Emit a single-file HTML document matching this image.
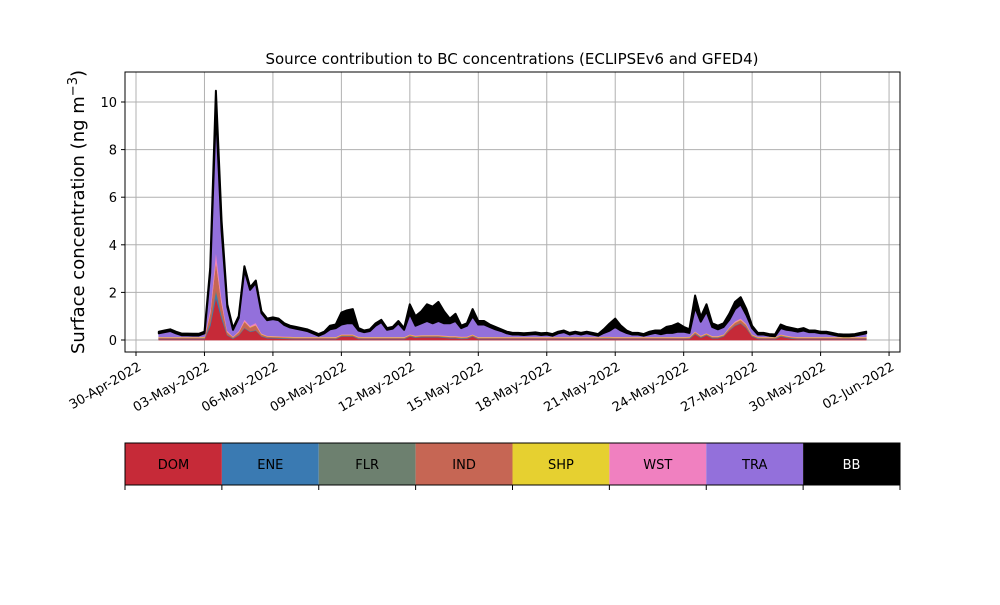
<!DOCTYPE html>
<html><head><meta charset="utf-8"><style>
body{margin:0;background:#fff;font-family:"Liberation Sans","DejaVu Sans",sans-serif}
svg text{font-family:"DejaVu Sans","Liberation Sans",sans-serif}
</style></head><body>
<svg id="chart" width="1000" height="600" viewBox="0 0 1000 600">
<rect width="1000" height="600" fill="#fff"/>
<text x="512" y="64" font-size="15" text-anchor="middle">Source contribution to BC concentrations (ECLIPSEv6 and GFED4)</text>
<g id="grid"></g>
<g id="areas"></g>
<g id="axes"></g>
<text transform="translate(84,212) rotate(-90)" font-size="18" text-anchor="middle">Surface concentration (ng m<tspan dy="-7" font-size="13">−3</tspan><tspan dy="7">)</tspan></text>
<g id="legend"></g>
</svg>
<script>
const sources = ["DOM","ENE","FLR","IND","SHP","WST","TRA","BB"];
const colors = ["#c62a38","#3a7ab2","#6d806f","#c66654","#e6d030","#f080c0","#9370db","#000000"];
const startDay = 1; // days after 30-Apr-2022
const stepDay = 0.25;
const xTickLabels = ["30-Apr-2022","03-May-2022","06-May-2022","09-May-2022","12-May-2022","15-May-2022","18-May-2022","21-May-2022","24-May-2022","27-May-2022","30-May-2022","02-Jun-2022"];
const xTickDays = [0,3,6,9,12,15,18,21,24,27,30,33];
const yTicks = [0,2,4,6,8,10];
const dom = [.04,.04,.04,.04, .04,.04,.04,.04, .05,.6,1.8,.9, .2,.06,.2,.5, .35,.4,.15,.08, .08,.07,.06,.05, .04,.04,.04,.04, .04,.04,.04,.04, .15,.15,.15,.05, .04,.04,.04,.04, .04,.04,.04,.04, .15,.1,.12,.12, .12,.12,.1,.08, .08,.05,.06,.15, .04,.04,.04,.04, .04,.04,.04,.04, .04,.04,.04,.04, .04,.04,.04,.04, .04,.04,.04,.04, .04,.04,.05,.05, .04,.04,.04,.04, .04,.04,.04,.04, .04,.04,.04,.04, .04,.05,.25,.1, .2,.08,.08,.15, .4,.6,.7,.5, .15,.05,.04,.04, .04,.15,.1,.06, .04,.04,.04,.04, .04,.04,.04,.04, .04,.04,.04,.04, .04];
const ene = [.02,.02,.02,.02, .02,.02,.02,.02, .02,.1,.25,.12, .02,.02,.02,.02, .02,.02,.02,.02, .02,.02,.02,.02, .02,.02,.02,.02, .02,.02,.02,.02, .02,.02,.02,.02, .02,.02,.02,.02, .02,.02,.02,.02, .02,.02,.02,.02, .02,.02,.02,.02, .02,.02,.02,.02, .02,.02,.02,.02, .02,.02,.02,.02, .02,.02,.02,.02, .02,.02,.02,.02, .02,.02,.02,.02, .02,.02,.02,.02, .02,.02,.02,.02, .02,.02,.02,.02, .02,.02,.02,.02, .02,.02,.02,.02, .02,.02,.02,.02, .02,.02,.02,.02, .02,.02,.02,.02, .02,.02,.02,.02, .02,.02,.02,.02, .02,.02,.02,.02, .02,.02,.02,.02, .02];
const flr = [.01,.01,.01,.01, .01,.01,.01,.01, .01,.05,.1,.05, .01,.01,.01,.01, .01,.01,.01,.01, .01,.01,.01,.01, .01,.01,.01,.01, .01,.01,.01,.01, .01,.01,.01,.01, .01,.01,.01,.01, .01,.01,.01,.01, .01,.01,.01,.01, .01,.01,.01,.01, .01,.01,.01,.01, .01,.01,.01,.01, .01,.01,.01,.01, .01,.01,.01,.01, .01,.01,.01,.01, .01,.01,.01,.01, .01,.01,.01,.01, .01,.01,.01,.01, .01,.01,.01,.01, .01,.01,.01,.01, .01,.01,.01,.01, .01,.01,.01,.01, .01,.01,.01,.01, .01,.01,.01,.01, .01,.01,.01,.01, .01,.01,.01,.01, .01,.01,.01,.01, .01,.01,.01,.01, .01];
const ind = [.03,.03,.03,.03, .03,.03,.03,.03, .03,.4,1.2,.5, .1,.03,.1,.25, .15,.2,.06,.04, .03,.03,.03,.03, .03,.03,.03,.03, .03,.03,.03,.03, .03,.03,.03,.03, .03,.03,.03,.03, .03,.03,.03,.03, .03,.03,.03,.03, .03,.03,.03,.03, .03,.03,.03,.03, .03,.03,.03,.03, .03,.03,.03,.03, .03,.03,.03,.03, .03,.03,.03,.03, .03,.03,.03,.03, .03,.03,.03,.03, .03,.03,.03,.03, .03,.03,.03,.03, .03,.03,.03,.03, .03,.03,.06,.03, .03,.03,.03,.03, .08,.1,.12,.1, .03,.03,.03,.03, .03,.03,.03,.03, .03,.03,.03,.03, .03,.03,.03,.03, .03,.03,.03,.03, .03];
const shp = [.02,.02,.02,.02, .02,.02,.02,.02, .02,.02,.02,.02, .02,.02,.02,.02, .02,.02,.02,.02, .02,.02,.02,.02, .02,.02,.02,.02, .02,.02,.02,.02, .02,.02,.02,.02, .02,.02,.02,.02, .02,.02,.02,.02, .02,.02,.02,.02, .02,.02,.02,.02, .02,.02,.02,.02, .02,.02,.02,.02, .02,.02,.02,.02, .02,.02,.02,.02, .02,.02,.02,.02, .02,.02,.02,.02, .02,.02,.02,.02, .02,.02,.02,.02, .02,.02,.02,.02, .02,.02,.02,.02, .02,.02,.02,.02, .02,.02,.02,.02, .02,.02,.02,.02, .02,.02,.02,.02, .02,.02,.02,.02, .02,.02,.02,.02, .02,.02,.02,.02, .02,.02,.02,.02, .02];
const wst = [.02,.02,.02,.02, .02,.02,.02,.02, .02,.15,.4,.2, .05,.02,.04,.08, .06,.08,.03,.02, .02,.02,.02,.02, .02,.02,.02,.02, .02,.02,.02,.02, .02,.02,.02,.02, .02,.02,.02,.02, .02,.02,.02,.02, .02,.02,.02,.02, .02,.02,.02,.02, .02,.02,.02,.02, .02,.02,.02,.02, .02,.02,.02,.02, .02,.02,.02,.02, .02,.02,.02,.02, .02,.02,.02,.02, .02,.02,.02,.02, .02,.02,.02,.02, .02,.02,.02,.02, .02,.02,.02,.02, .02,.02,.02,.02, .02,.02,.02,.02, .03,.05,.05,.04, .02,.02,.02,.02, .02,.02,.02,.02, .02,.02,.02,.02, .02,.02,.02,.02, .02,.02,.02,.02, .02];
const tra = [.14,.19,.24,.14, .06,.06,.05,.05, .13,1.5,5.9,2.8, 1.0,.27,.54,2.07, 1.5,1.67,.84,.64, .7,.66,.47,.38, .34,.29,.24,.14, .04,.14,.31,.36, .4,.45,.45,.25, .19,.24,.46,.61, .29,.34,.56,.29, .85,.4,.48,.58, .48,.58,.5,.52, .62,.35,.44,.75, .51,.51,.41,.31, .24,.14,.09,.09, .07,.09,.11,.07, .09,.04,.14,.19, .09,.14,.09,.14, .09,.04,.15,.24, .41,.26,.16,.09, .09,.04,.11,.16, .11,.16,.16,.21, .21,.15,.99,.57, .9,.37,.27,.3, .29,.5,.58,.36, .25,.08,.09,.04, .02,.25,.23,.24, .21,.26,.19,.19, .14,.14,.09,.04, .02,.02,.04,.09, .14];
const bb = [.07,.07,.07,.07, .07,.07,.07,.07, .07,.2,.8,.4, .1,.07,.07,.15, .1,.1,.07,.07, .07,.07,.07,.07, .07,.07,.07,.07, .07,.07,.15,.15, .5,.55,.6,.1, .07,.07,.1,.1, .07,.07,.1,.07, .4,.4,.5,.7, .7,.8,.5,.2, .3,.1,.1,.3, .15,.15,.1,.1, .07,.07,.07,.07, .07,.07,.07,.07, .07,.07,.07,.07, .07,.07,.07,.07, .07,.07,.15,.3, .35,.2,.1,.07, .07,.07,.1,.1, .15,.25,.3,.35, .2,.15,.5,.2, .3,.15,.15,.15, .25,.3,.3,.25, .1,.07,.07,.07, .07,.15,.12,.1, .1,.1,.07,.07, .07,.07,.07,.07, .07,.07,.07,.07, .07];
const series = [dom,ene,flr,ind,shp,wst,tra,bb];

const NS="http://www.w3.org/2000/svg";
const X0=125,X1=900,Y0=72,Y1=352;
function xScale(day){return 136+day*22.82;}
function yScale(v){return 340-v*23.8;}
function mk(tag,attrs,parent){const e=document.createElementNS(NS,tag);for(const k in attrs)e.setAttribute(k,attrs[k]);parent.appendChild(e);return e;}
const grid=document.getElementById('grid'),areas=document.getElementById('areas'),axes=document.getElementById('axes'),legend=document.getElementById('legend');

yTicks.forEach(v=>{
  const y=yScale(v);
  const g=mk('line',{x1:X0,x2:X1,y1:y,y2:y,stroke:'#b0b0b0','stroke-width':1},grid);
  
  
  const t=mk('line',{x1:X0-4,x2:X0,y1:y,y2:y,stroke:'#000'},axes);
  
  
  const l=mk('text',{x:X0-8,y:y+5,'font-size':13,'text-anchor':'end'},axes);
  l.textContent=v;
  
  
});
xTickDays.forEach((d,i)=>{
  const x=xScale(d);
  const g=mk('line',{x1:x,x2:x,y1:Y0,y2:Y1,stroke:'#b0b0b0','stroke-width':1},grid);
  
  
  const t=mk('line',{x1:x,x2:x,y1:Y1,y2:Y1+4,stroke:'#000'},axes);
  
  
  const l=mk('text',{x:x+3,y:Y1+18,'font-size':13,'text-anchor':'end',transform:`rotate(-30 ${x+3} ${Y1+12})`},axes);
  l.textContent=xTickLabels[i];
  
  
});

const n=dom.length;
let base=new Array(n).fill(0);
series.forEach((s,si)=>{
  const top=base.map((b,i)=>b+s[i]);
  let d='';
  for(let i=0;i<n;i++){d+=(i?'L':'M')+xScale(startDay+i*stepDay).toFixed(1)+','+yScale(top[i]).toFixed(1);}
  for(let i=n-1;i>=0;i--){d+='L'+xScale(startDay+i*stepDay).toFixed(1)+','+yScale(base[i]).toFixed(1);}
  d+='Z';
  const p=mk('path',{d:d,fill:colors[si],stroke:colors[si],'stroke-width':si===7?2:0.8,'stroke-linejoin':'round'},areas);
  
  
  base=top;
});

const frame=mk('rect',{x:X0,y:Y0,width:X1-X0,height:Y1-Y0,fill:'none',stroke:'#000','stroke-width':1},axes);



const LX0=125,LX1=900,LY0=443,LY1=485,w=(LX1-LX0)/sources.length;
sources.forEach((s,i)=>{
  const r=mk('rect',{x:LX0+i*w,y:LY0,width:w,height:LY1-LY0,fill:colors[i]},legend);
  
  
  const t=mk('text',{x:LX0+i*w+w/2,y:469,'font-size':13,'text-anchor':'middle',fill:i===7?'#fff':'#000'},legend);
  t.textContent=s;
  
  
});
for(let i=0;i<=sources.length;i++){
  const x=LX0+i*w;
  const tk=mk('line',{x1:x,x2:x,y1:LY1,y2:LY1+5,stroke:'#000'},legend);
  
  
}
const lf=mk('rect',{x:LX0,y:LY0,width:LX1-LX0,height:LY1-LY0,fill:'none',stroke:'#000'},legend);


</script>
</body></html>
